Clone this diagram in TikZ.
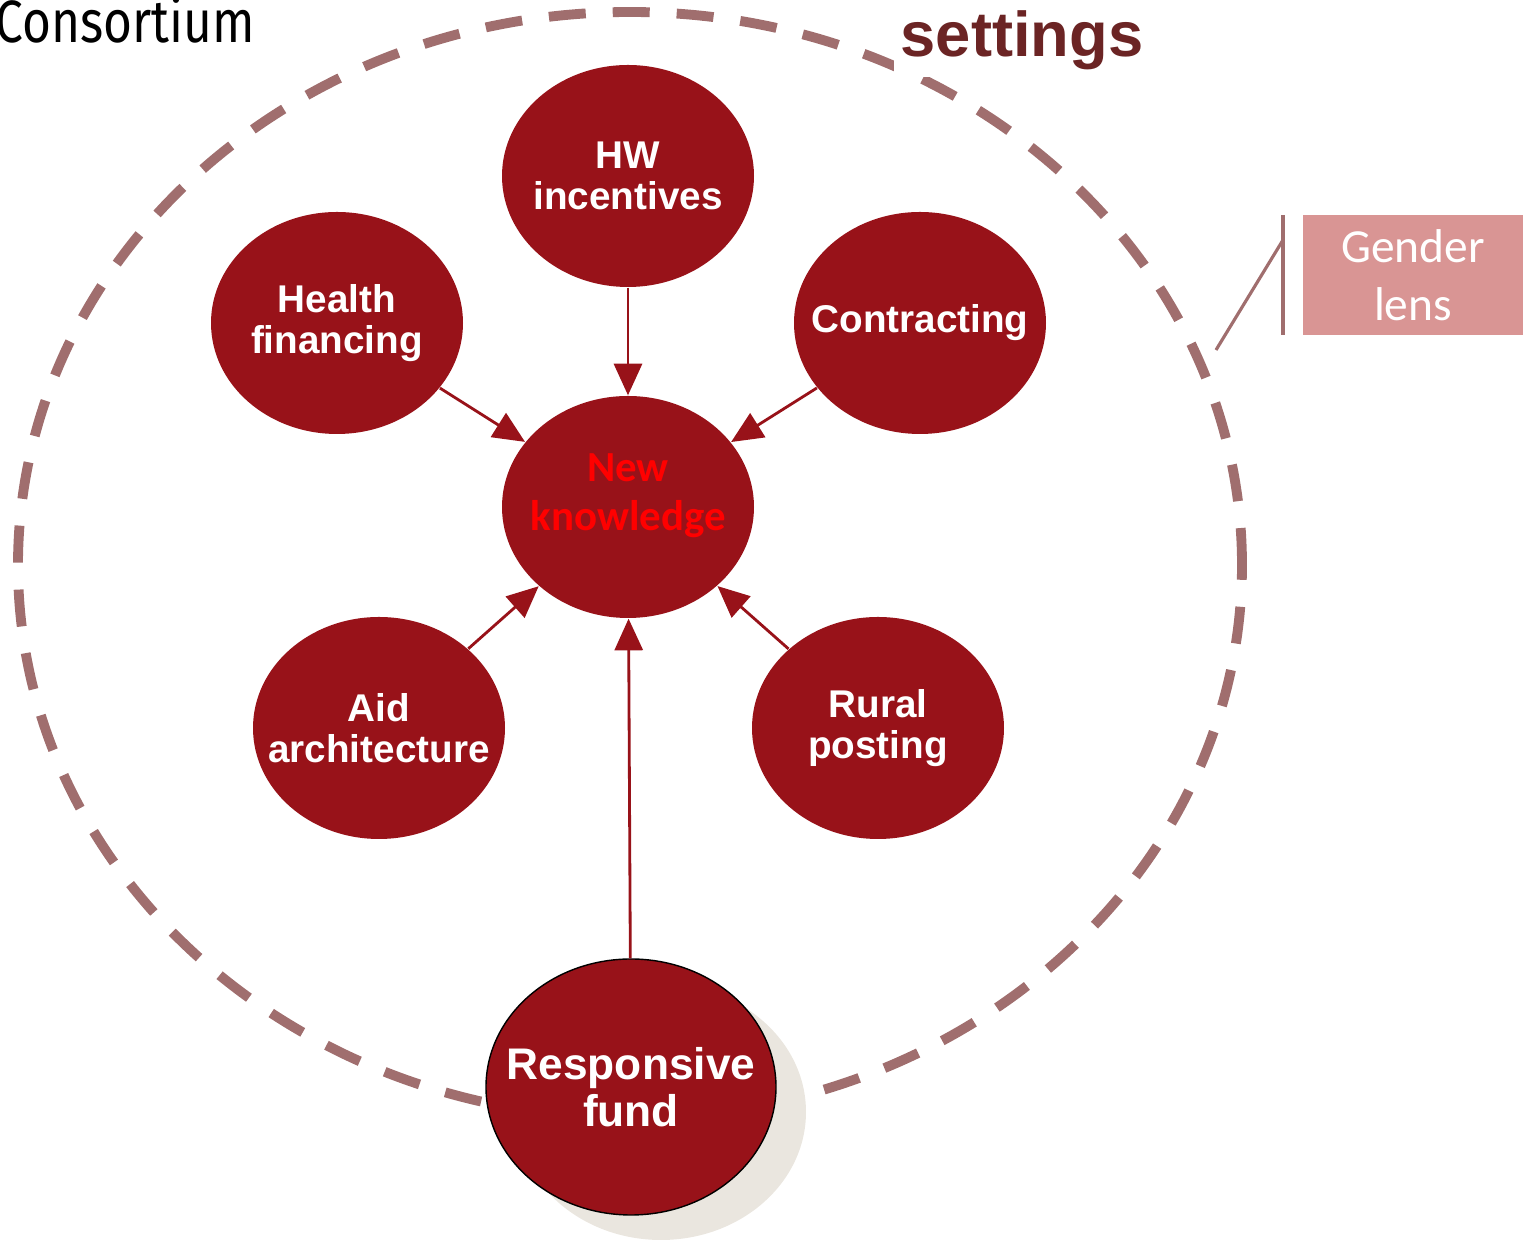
\documentclass[tikz,border=0pt]{standalone}
\usepackage{fontspec}
\setmainfont{Liberation Sans}
\newfontfamily\calib{Carlito}
\newfontfamily\firafont{Fira Sans}
\usetikzlibrary{shapes.geometric,arrows.meta}
\definecolor{blobred}{HTML}{981219}
\definecolor{ringcol}{HTML}{A06E6E}
\definecolor{lensbox}{HTML}{D99594}
\definecolor{shadowcol}{HTML}{EAE6DF}
\definecolor{setcol}{HTML}{6B2424}
\begin{document}
\begin{tikzpicture}[line cap=butt, line join=round, >={Triangle[length=9pt,width=8pt]}]
			\tikzset{blob/.style={ellipse, fill=blobred, text=white, inner sep=-0.6cm, minimum width=2.52cm, minimum height=2.22cm, align=center, font=\bfseries\fontsize{11}{11.8}\selectfont},
				arr/.style={->, draw=blobred, line width=0.8pt}}
			\useasboundingbox (0,0) rectangle (15.23,12.41);
			\draw[ringcol, line width=2.8pt, dash pattern=on 0.37cm off 0.27cm] (6.30,6.76) ellipse [x radius=6.12cm, y radius=5.53cm];
			\node[anchor=base west, inner sep=0pt, font=\firafont\fontsize{17}{17}\selectfont, xscale=0.83] (cons) at (-0.05,11.98) {Consortium};
			\node[anchor=base west, inner sep=2pt, fill=white, text=setcol, font=\bfseries\fontsize{18}{18}\selectfont] (set) at (8.93,11.84) {settings};
			% the six topic blobs
			\node[blob] (hw) at (6.28,10.65) {HW\\incentives};
			\node[blob] (hf) at (3.37,9.18) {Health\\financing};
			\node[blob] (ct) at (9.20,9.18) {Contracting};
			\node[blob, text=red, font=\calib\bfseries\fontsize{12.2}{14}\selectfont] (nk) at (6.28,7.34) {New\\knowledge\\[-0.2cm]};
			\node[blob] (aid) at (3.79,5.13) {Aid\\architecture};
			\node[blob] (rp) at (8.78,5.13) {Rural\\posting};
			\fill[shadowcol] (6.61,1.29) ellipse [x radius=1.45cm, y radius=1.28cm];
			\node[blob, draw=black, line width=0.4pt, minimum width=2.9cm, minimum height=2.56cm, font=\bfseries\fontsize{12.6}{13.4}\selectfont] (rf) at (6.31,1.54) {Responsive\\fund};
			\foreach \s in {hw,hf,ct,aid,rp,rf}
				\draw[arr] (\s) -- (nk);
			% gender lens callout
			\node[fill=lensbox, text=white, minimum width=2.2cm, minimum height=1.2cm, inner sep=0pt, align=center, font=\calib\fontsize{13.5}{16.5}\selectfont] (lens) at (14.13,9.66) {Gender\\lens};
			\coordinate (bt) at (12.83,10.26);
			\coordinate (bb) at (12.83,9.06);
			\coordinate (tip) at (12.16,8.91);
			\draw[ringcol, line width=1.2pt] (bt) -- (bb);
			\draw[ringcol, line width=0.9pt] (12.83,10.01) -- (tip);
		\end{tikzpicture}
\end{document}
